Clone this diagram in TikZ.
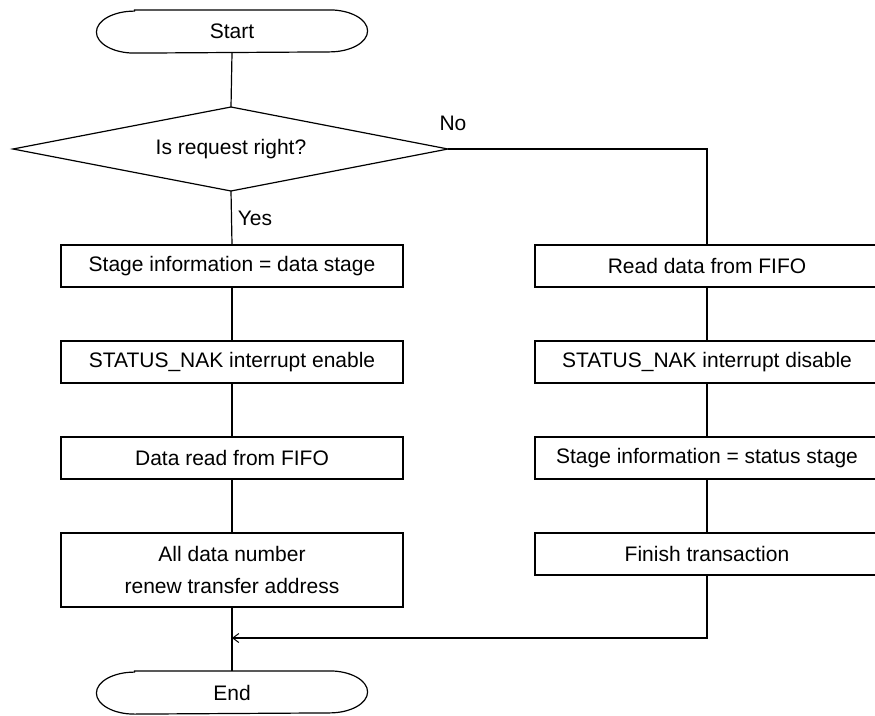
\documentclass[tikz,border=0pt]{standalone}
\usepackage{fontspec}
\setmainfont{Liberation Sans}
\usetikzlibrary{arrows.meta}
\tikzset{
  txt/.style={font=\fontsize{21}{32}\selectfont},
  procbox/.style={txt,draw,rectangle,inner sep=0pt,minimum height=42pt,align=center},
  leftbox/.style={procbox,minimum width=342pt},
  rightbox/.style={procbox,minimum width=344pt},
  termnode/.style={txt,rectangle,inner sep=0pt,minimum width=270pt,minimum height=42pt},
  conn/.style={draw},
}
\newcommand{\termshape}[1]{%
  \draw ([xshift=38pt]#1.north west) -- ([xshift=-38pt]#1.north east)
    arc[start angle=90,end angle=-90,x radius=38pt,y radius=21pt]
    -- ([xshift=38pt]#1.south west)
    arc[start angle=270,end angle=90,x radius=38pt,y radius=21pt] -- cycle;}
\begin{document}
\begin{tikzpicture}[x=1pt,y=1pt,line width=1.2pt]
\useasboundingbox (0,0) rectangle (875,-715);
\clip (0,0) rectangle (875,-715);
\node[termnode] (start) at (232,-31.5) {Start};
\termshape{start}
\node[txt,inner sep=0pt] (dec) at (231,-149) {Is request right?};
\coordinate (dtop) at (231,-107);
\coordinate (dbot) at (231,-191);
\coordinate (dleft) at (13,-149);
\coordinate (dright) at (448,-149);
\draw (dtop) -- (dright) -- (dbot) -- (dleft) -- cycle;
\node[leftbox] (l1) at (232,-266) {Stage information = data stage};
\node[leftbox] (l2) at (232,-362) {STATUS\_NAK interrupt enable};
\node[leftbox] (l3) at (232,-458) {Data read from FIFO};
\node[leftbox,minimum height=74pt] (l4) at (232,-570) {All data number\\renew transfer address};
\node[rightbox] (r1) at (707,-266) {Read data from FIFO};
\node[rightbox] (r2) at (707,-362) {STATUS\_NAK interrupt disable};
\node[rightbox] (r3) at (707,-458) {Stage information = status stage};
\node[rightbox] (r4) at (707,-554) {Finish transaction};
\node[termnode] (end) at (232,-692.5) {End};
\termshape{end}
\coordinate (join) at (232,-638);
\node[txt,anchor=center] (no) at (453,-123) {No};
\node[txt,anchor=center] (yes) at (255,-218) {Yes};
\draw[conn] (start.south) -- (dtop);
\draw[conn] (dbot) -- (l1.north);
\draw[conn] (l1) -- (l2);
\draw[conn] (l2) -- (l3);
\draw[conn] (l3) -- (l4);
\draw[conn] (l4.south) -- (end.north);
\draw[conn] (dright) -| (r1.north);
\draw[conn] (r1) -- (r2);
\draw[conn] (r2) -- (r3);
\draw[conn] (r3) -- (r4);
\draw[conn,-{Straight Barb[length=6pt,width=9pt,line width=1pt]}] (r4.south) |- (join);
\end{tikzpicture}
\end{document}
